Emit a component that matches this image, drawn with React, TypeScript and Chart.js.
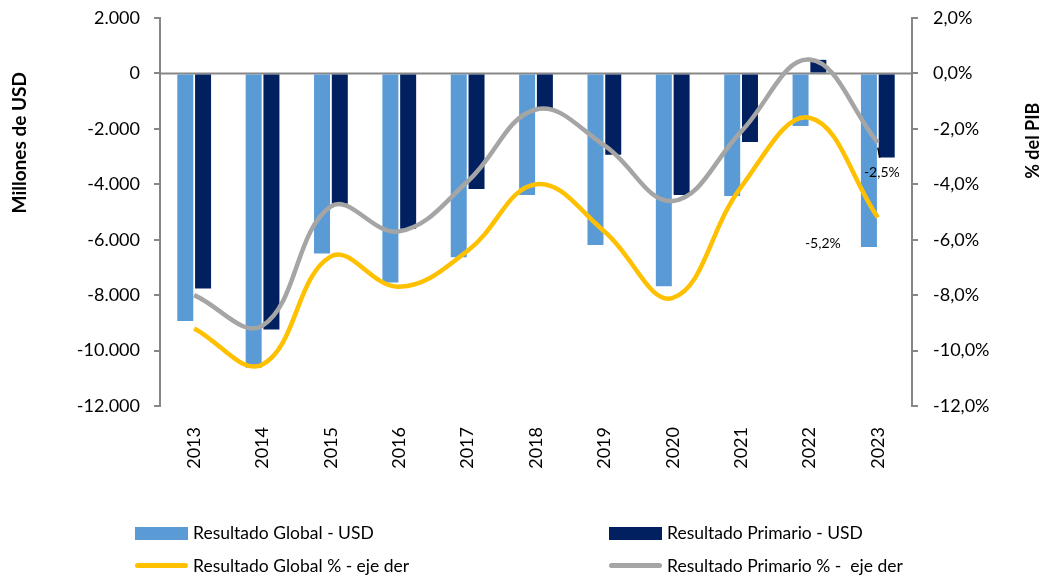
import React, { useEffect, useRef } from "react";
import { Chart, registerables } from "chart.js";

Chart.register(...registerables);

const years = ["2013", "2014", "2015", "2016", "2017", "2018", "2019", "2020", "2021", "2022", "2023"];
const globalUsd = [-8930, -10620, -6500, -7540, -6630, -4390, -6190, -7680, -4420, -1900, -6260];
const primarioUsd = [-7760, -9240, -4700, -5600, -4170, -1250, -2930, -4390, -2470, 490, -3030];
const globalPct = [-9.2, -10.5, -6.6, -7.7, -6.4, -4.0, -5.7, -8.1, -4.1, -1.6, -5.2];
const primarioPct = [-8.0, -9.1, -4.8, -5.7, -3.9, -1.3, -2.6, -4.6, -2.1, 0.5, -2.5];

const seriesNames = [
  "Resultado Global - USD",
  "Resultado Primario - USD",
  "Resultado Global % - eje der",
  "Resultado Primario % -  eje der",
];
const leftTitle = "Millones de USD";
const rightTitle = "% del PIB";

const FONT = "Lato, 'Open Sans', sans-serif";
const AXIS = "#878787";

const fmtUsd = (v: number) => {
  const s = Math.abs(v).toString().replace(/\B(?=(\d{3})+(?!\d))/g, ".");
  return (v < 0 ? "-" : "") + s;
};
const fmtPct = (v: number) => v.toFixed(1).replace(".", ",") + "%";

const zeroLine = {
  id: "zeroLine",
  beforeDatasetsDraw(chart: any) {
    const { ctx, chartArea, scales } = chart;
    const y = scales.y.getPixelForValue(0);
    ctx.save();
    ctx.strokeStyle = AXIS;
    ctx.lineWidth = 2;
    ctx.beginPath();
    ctx.moveTo(chartArea.left, y);
    ctx.lineTo(chartArea.right, y);
    ctx.stroke();
    ctx.restore();
  },
};

const lastLabels = {
  id: "lastLabels",
  afterDatasetsDraw(chart: any) {
    const { ctx } = chart;
    const gMeta = chart.getDatasetMeta(2);
    const pMeta = chart.getDatasetMeta(3);
    const n = years.length - 1;
    const gp = gMeta.data[n];
    const pp = pMeta.data[n];
    ctx.save();
    ctx.fillStyle = "#000";
    ctx.font = `14px ${FONT}`;
    ctx.textAlign = "center";
    ctx.textBaseline = "middle";
    ctx.strokeStyle = "#000";
    ctx.lineWidth = 1.5;
    ctx.beginPath();
    ctx.moveTo(pp.x, pp.y + 5);
    ctx.lineTo(pp.x + 2, pp.y + 15);
    ctx.stroke();
    ctx.fillText(fmtPct(primarioPct[n]), pp.x + 4, pp.y + 30);
    ctx.fillText(fmtPct(globalPct[n]), gp.x - 55, gp.y + 26);
    ctx.restore();
  },
};

const axisTitles = {
  id: "axisTitles",
  afterDraw(chart: any) {
    const { ctx, scales } = chart;
    const yc = scales.y.getPixelForValue(-2500);
    ctx.save();
    ctx.fillStyle = "#000";
    ctx.textAlign = "center";
    ctx.textBaseline = "middle";
    ctx.font = `bold 19px ${FONT}`;
    ctx.translate(20, yc);
    ctx.rotate(-Math.PI / 2);
    ctx.fillText(leftTitle, 0, 0);
    ctx.restore();
    ctx.save();
    ctx.fillStyle = "#000";
    ctx.textAlign = "center";
    ctx.textBaseline = "middle";
    ctx.font = `bold 18px ${FONT}`;
    ctx.translate(1033, yc - 2);
    ctx.rotate(-Math.PI / 2);
    ctx.fillText(rightTitle, 0, 0);
    ctx.restore();
  },
};

export default function App() {
  const ref = useRef<HTMLCanvasElement>(null);

  useEffect(() => {
    if (!ref.current) return;
    const chart = new Chart(ref.current, {
      type: "bar",
      data: {
        labels: years,
        datasets: [
          {
            type: "bar",
            label: seriesNames[0],
            data: globalUsd,
            backgroundColor: "#5B9BD5",
            yAxisID: "y",
            order: 3,
            categoryPercentage: 0.52,
            barPercentage: 0.9,
          },
          {
            type: "bar",
            label: seriesNames[1],
            data: primarioUsd,
            backgroundColor: "#002060",
            yAxisID: "y",
            order: 3,
            categoryPercentage: 0.52,
            barPercentage: 0.9,
          },
          {
            type: "line",
            label: seriesNames[2],
            data: globalPct,
            borderColor: "#FFC000",
            backgroundColor: "#FFC000",
            borderWidth: 4.5,
            pointRadius: 0,
            tension: 0.4,
            yAxisID: "y1",
            order: 1,
          },
          {
            type: "line",
            label: seriesNames[3],
            data: primarioPct,
            borderColor: "#A5A5A5",
            backgroundColor: "#A5A5A5",
            borderWidth: 4.5,
            pointRadius: 0,
            tension: 0.4,
            yAxisID: "y1",
            order: 2,
          },
        ] as any,
      },
      options: {
        responsive: false,
        animation: false,
        layout: { padding: { left: 0, right: 0, top: 18, bottom: 0 } },
        plugins: { legend: { display: false }, tooltip: { enabled: false } },
        scales: {
          x: {
            grid: { display: false },
            border: { display: false },
            ticks: {
              minRotation: 90,
              maxRotation: 90,
              padding: 13,
              color: "#000",
              font: { family: FONT, size: 18 },
            },
            afterFit: (s: any) => {
              s.height = 172;
            },
          },
          y: {
            position: "left",
            min: -12000,
            max: 2000,
            ticks: {
              stepSize: 2000,
              padding: 14,
              color: "#000",
              font: { family: FONT, size: 18 },
              callback: (v: any) => fmtUsd(Number(v)),
            },
            grid: { drawOnChartArea: false, color: AXIS, tickLength: 6, lineWidth: 2 },
            border: { color: AXIS, width: 2 },
            afterFit: (s: any) => {
              s.width = 160;
              s.paddingTop = 0;
            },
          },
          y1: {
            position: "right",
            min: -12,
            max: 2,
            ticks: {
              stepSize: 2,
              padding: 15,
              color: "#000",
              font: { family: FONT, size: 18 },
              callback: (v: any) => fmtPct(Number(v)),
            },
            grid: { drawOnChartArea: false, color: AXIS, tickLength: 6, lineWidth: 2 },
            border: { color: AXIS, width: 2 },
            afterFit: (s: any) => {
              s.width = 132;
              s.paddingTop = 0;
            },
          },
        },
      } as any,
      plugins: [zeroLine, lastLabels, axisTitles],
    });
    return () => chart.destroy();
  }, []);

  const legendText: React.CSSProperties = {
    position: "absolute",
    fontFamily: FONT,
    fontSize: 17.5,
    color: "#000",
    lineHeight: "20px",
    whiteSpace: "pre",
  };

  const items = [
    { x: 135, y: 533, kind: "box", color: "#5B9BD5", text: seriesNames[0] },
    { x: 609, y: 533, kind: "box", color: "#002060", text: seriesNames[1] },
    { x: 135, y: 566, kind: "line", color: "#FFC000", text: seriesNames[2] },
    { x: 609, y: 566, kind: "line", color: "#A5A5A5", text: seriesNames[3] },
  ];

  return (
    <div
      style={{
        position: "fixed",
        left: 0,
        top: 0,
        width: 1044,
        height: 578,
        background: "#fff",
        overflow: "hidden",
      }}
    >
      <canvas ref={ref} width={1044} height={578} style={{ display: "block" }} />
      {items.map((it, i) => (
        <React.Fragment key={i}>
          {it.kind === "box" ? (
            <div
              style={{
                position: "absolute",
                left: it.x,
                top: it.y - 6,
                width: 53,
                height: 13,
                background: it.color,
              }}
            />
          ) : (
            <div
              style={{
                position: "absolute",
                left: it.x,
                top: it.y - 3,
                width: 53,
                height: 5,
                borderRadius: 3,
                background: it.color,
              }}
            />
          )}
          <div style={{ ...legendText, left: it.x + 58, top: it.y - 10 }}>{it.text}</div>
        </React.Fragment>
      ))}
    </div>
  );
}
